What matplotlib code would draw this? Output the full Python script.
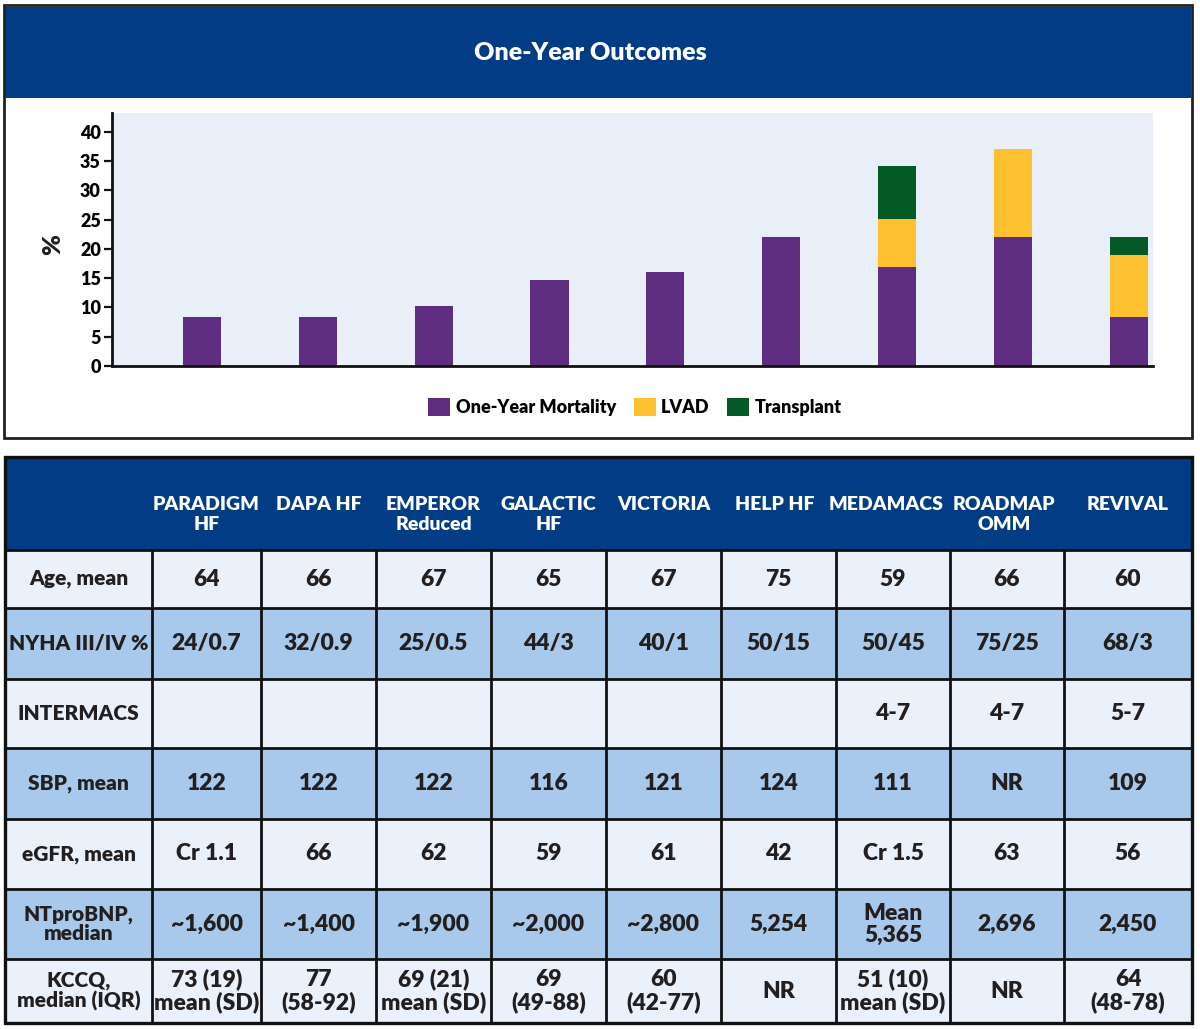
import numpy as np
import matplotlib.pyplot as plt
from matplotlib.patches import Rectangle
from matplotlib.lines import Line2D

plt.rcParams['font.family'] = ['Lato', 'DejaVu Sans']
plt.rcParams['font.weight'] = 'heavy'

# ---- chart data ----
trials = ['PARADIGM\nHF', 'DAPA HF', 'EMPEROR\nReduced', 'GALACTIC\nHF', 'VICTORIA',
          'HELP HF', 'MEDAMACS', 'ROADMAP\nOMM', 'REVIVAL']
mortality = [8.4, 8.4, 10.3, 14.7, 16.1, 22.1, 16.9, 22.1, 8.4]
lvad = [0, 0, 0, 0, 0, 0, 8.2, 15.0, 10.6]
transplant = [0, 0, 0, 0, 0, 0, 9.1, 0, 3.1]
yticks = [0, 5, 10, 15, 20, 25, 30, 35, 40]

# ---- table data ----
row_labels = ['Age, mean', 'NYHA III/IV %', 'INTERMACS', 'SBP, mean', 'eGFR, mean',
              'NTproBNP,\nmedian', 'KCCQ,\nmedian (IQR)']
age = ['64', '66', '67', '65', '67', '75', '59', '66', '60']
nyha = ['24/0.7', '32/0.9', '25/0.5', '44/3', '40/1', '50/15', '50/45', '75/25', '68/3']
intermacs = ['', '', '', '', '', '', '4-7', '4-7', '5-7']
sbp = ['122', '122', '122', '116', '121', '124', '111', 'NR', '109']
egfr = ['Cr 1.1', '66', '62', '59', '61', '42', 'Cr 1.5', '63', '56']
ntprobnp = ['~1,600', '~1,400', '~1,900', '~2,000', '~2,800', '5,254', 'Mean\n5,365', '2,696', '2,450']
kccq = ['73 (19)\nmean (SD)', '77\n(58-92)', '69 (21)\nmean (SD)', '69\n(49-88)', '60\n(42-77)',
        'NR', '51 (10)\nmean (SD)', 'NR', '64\n(48-78)']
table_rows = [age, nyha, intermacs, sbp, egfr, ntprobnp, kccq]

# colours
navy = '#013c84'
purple = '#5e2d82'
yellow = '#fdc02f'
green = '#045a24'
panel_bg = '#e8eff9'
row_light = '#eaf1fb'
row_mid = '#a8c9eb'
ink = '#231f20'

W, H = 1200, 1029
fig = plt.figure(figsize=(W / 100, H / 100), dpi=100)
fig.patch.set_facecolor('white')

# overlay axes in pixel units for the frames and the table
bg = fig.add_axes([0, 0, 1, 1])
bg.set_xlim(0, W)
bg.set_ylim(H, 0)
bg.axis('off')

# top panel
bg.add_patch(Rectangle((5, 7), 1186, 91, facecolor=navy, edgecolor='none'))
bg.add_patch(Rectangle((4, 5), 1188, 433, fill=False, edgecolor='#222222', lw=2))
bg.text(590, 53, 'One-Year Outcomes', color='white', fontsize=18, fontweight='heavy',
        ha='center', va='center')

# bar chart
ax_l, ax_r, ax_t, ax_b = 112, 1153, 113, 366
ax = fig.add_axes([ax_l / W, (H - ax_b) / H, (ax_r - ax_l) / W, (ax_b - ax_t) / H])
ax.set_facecolor(panel_bg)
x = np.arange(len(trials))
mortality = np.array(mortality)
lvad = np.array(lvad)
transplant = np.array(transplant)
bw = 0.33
ax.bar(x, mortality, width=bw, color=purple, lw=0, label='One-Year Mortality')
ax.bar(x, lvad, width=bw, bottom=mortality, color=yellow, lw=0, label='LVAD')
ax.bar(x, transplant, width=bw, bottom=mortality + lvad, color=green, lw=0, label='Transplant')
ax.set_xlim(-0.777, 8.21)
ax.set_ylim(0, 43.2)
ax.set_yticks(yticks)
ax.set_xticks([])
for s in ['top', 'right']:
    ax.spines[s].set_visible(False)
for s in ['left', 'bottom']:
    ax.spines[s].set_linewidth(2)
    ax.spines[s].set_color('#111111')
ax.tick_params(axis='y', length=6, width=1.6, labelsize=13, color='#111111', pad=2)
for lab in ax.get_yticklabels():
    lab.set_fontweight('heavy')
ax.set_ylabel('%', fontsize=18, fontweight='heavy', color=ink)
ax.yaxis.set_label_coords(-0.046, 0.48)

handles, labels = ax.get_legend_handles_labels()
fig.legend(handles, labels, loc='center', bbox_to_anchor=(635 / W, 1 - 407 / H), ncol=3,
           frameon=False, handlelength=1.2, handleheight=1.2,
           handletextpad=0.3, columnspacing=1.0, prop={'weight': 'heavy', 'size': 13})

# table
col_edges = [5, 152, 261, 376, 491, 606, 721, 836, 950, 1064, 1192]
row_edges = [457, 550, 608, 679, 748, 819, 889, 959, 1023]
head_shift = [0, 0, 0, 0, 0, -4, -7, -3, 0]

bg.add_patch(Rectangle((col_edges[0], row_edges[0]), col_edges[-1] - col_edges[0],
                       row_edges[1] - row_edges[0], facecolor=navy, edgecolor='none'))
for i in range(len(row_labels)):
    y0, y1 = row_edges[i + 1], row_edges[i + 2]
    color = row_light if i % 2 == 0 else row_mid
    bg.add_patch(Rectangle((col_edges[0], y0), col_edges[-1] - col_edges[0], y1 - y0,
                           facecolor=color, edgecolor='none'))
    yc = (y0 + y1) / 2
    bg.text((col_edges[0] + col_edges[1]) / 2, yc, row_labels[i], ha='center', va='center',
            fontsize=15, fontweight='heavy', color=ink, linespacing=1.05)
    for j, val in enumerate(table_rows[i]):
        xc = (col_edges[j + 1] + col_edges[j + 2]) / 2
        bg.text(xc, yc, val, ha='center', va='center', fontsize=16.5, fontweight='heavy',
                color=ink, linespacing=1.05)

for j, name in enumerate(trials):
    xc = (col_edges[j + 1] + col_edges[j + 2]) / 2 + head_shift[j]
    bg.text(xc, 496, name, ha='center', va='top', fontsize=14, fontweight='heavy',
            color='white', linespacing=1.2)

# grid lines
for y in row_edges[1:-1]:
    bg.add_line(Line2D([col_edges[0], col_edges[-1]], [y, y], color='#111111', lw=2))
for xe in col_edges[1:-1]:
    bg.add_line(Line2D([xe, xe], [row_edges[1], row_edges[-1]], color='#111111', lw=2))
bg.add_patch(Rectangle((col_edges[0], row_edges[0]), col_edges[-1] - col_edges[0],
                       row_edges[-1] - row_edges[0], fill=False, edgecolor='#111111', lw=2.4))

fig.savefig('out.png', dpi=100)
